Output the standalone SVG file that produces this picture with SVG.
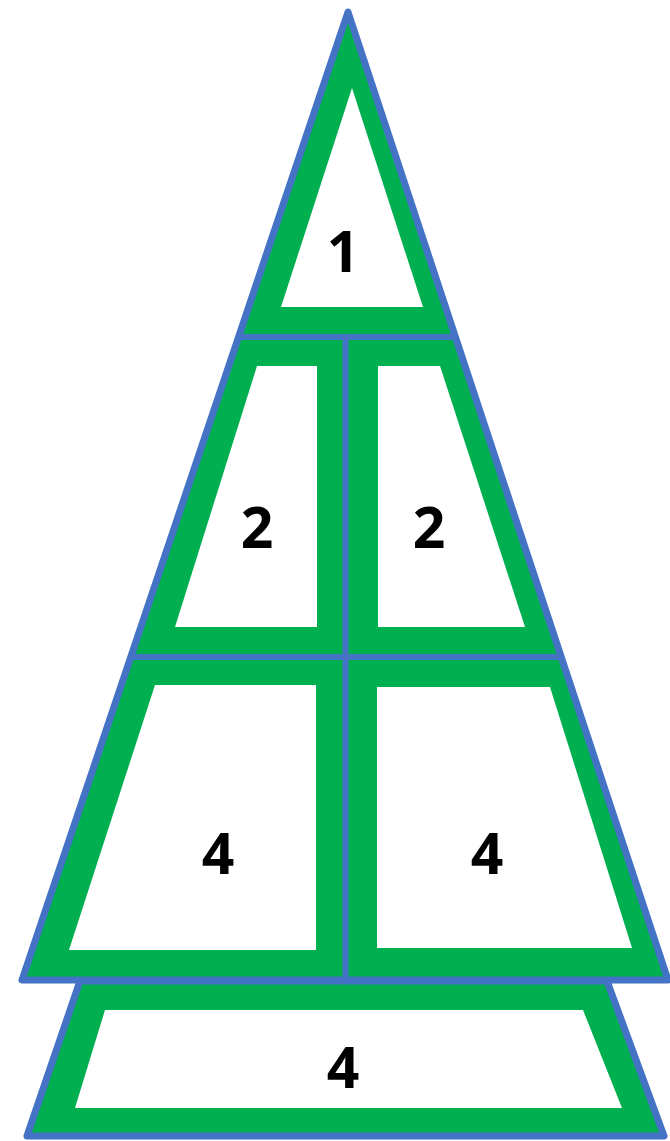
<svg xmlns="http://www.w3.org/2000/svg" width="670" height="1141" viewBox="0 0 670 1141">
<style>
.frame{fill:#00B050;stroke:#4472C4;stroke-width:7;stroke-linejoin:round}
.div{stroke:#4472C4;stroke-width:6;fill:none}
.hole{fill:#FFFFFF}
.lbl{font-family:"Open Sans","Liberation Sans",sans-serif;font-weight:700;font-size:57px;fill:#000000;text-anchor:middle}
</style>
<rect width="670" height="1141" fill="#FFFFFF"/>
<g id="frame">
<polygon class="frame" points="80,981 607,981 664,1136 27,1136"/>
<polygon class="frame" points="348,12 22,980 668,980"/>
</g>
<g id="dividers">
<line class="div" x1="239" y1="337" x2="458" y2="337"/>
<line class="div" x1="131" y1="657" x2="564" y2="657"/>
<line class="div" x1="345.5" y1="337" x2="345.5" y2="980"/>
</g>
<g id="cell1">
<polygon class="hole" points="352,88 423,307 281,307"/>
<text class="lbl" x="343" y="272">1</text>
</g>
<g id="cell2-left">
<polygon class="hole" points="257,366 317,366 317,627 175,627"/>
<text class="lbl" x="257" y="548">2</text>
</g>
<g id="cell2-right">
<polygon class="hole" points="378,366 440,366 525,627 378,627"/>
<text class="lbl" x="429" y="548">2</text>
</g>
<g id="cell4-left">
<polygon class="hole" points="155,685 316,685 316,950 69,950"/>
<text class="lbl" x="218" y="874">4</text>
</g>
<g id="cell4-right">
<polygon class="hole" points="377,687 550,687 632,948 377,948"/>
<text class="lbl" x="487" y="874">4</text>
</g>
<g id="cell-base">
<polygon class="hole" points="105,1010 583,1010 622,1108 75,1108"/>
<text class="lbl" x="343" y="1088">4</text>
</g>
</svg>
